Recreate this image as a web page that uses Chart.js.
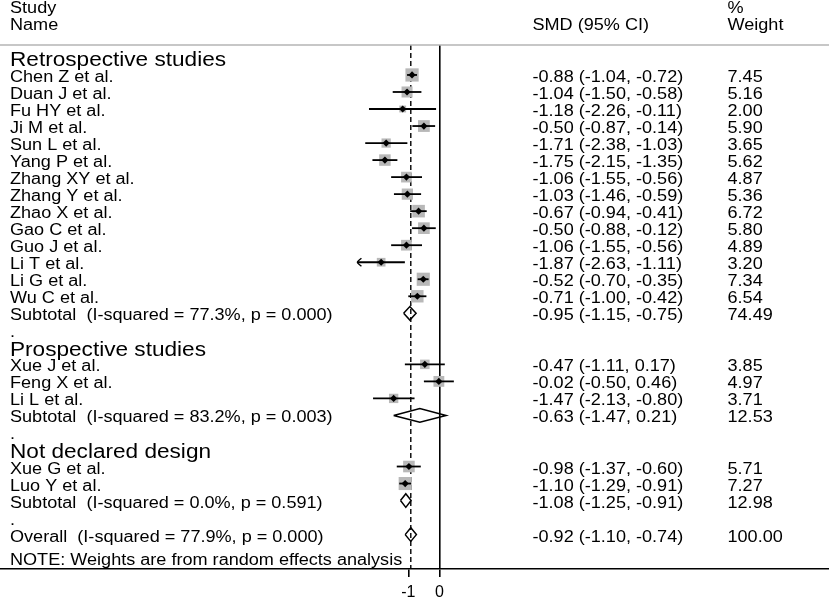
<!DOCTYPE html>
<html>
<head>
<meta charset="utf-8">
<script src="https://cdn.jsdelivr.net/npm/chart.js@4.4.1/dist/chart.umd.min.js"></script>
<style>
  html, body { margin: 0; padding: 0; background: #fff; }
  #wrap { width: 829px; height: 599px; }
</style>
</head>
<body>
<div id="wrap"><canvas id="forest"></canvas></div>
<script>
// groups of studies
const groupNames = ['Retrospective studies', 'Prospective studies', 'Not declared design']

// one entry per study
const studyNames = [
    'Chen Z et al.', 'Duan J et al.', 'Fu HY et al.', 'Ji M et al.', 'Sun L et al.',
    'Yang P et al.', 'Zhang XY et al.', 'Zhang Y et al.', 'Zhao X et al.', 'Gao C et al.',
    'Guo J et al.', 'Li T et al.', 'Li G et al.', 'Wu C et al.',
    'Xue J et al.', 'Feng X et al.', 'Li L et al.',
    'Xue G et al.', 'Luo Y et al.',
]
const studyGroup = [0, 0, 0, 0, 0, 0, 0, 0, 0, 0, 0, 0, 0, 0, 1, 1, 1, 2, 2]
const smd = [-0.88, -1.04, -1.18, -0.50, -1.71, -1.75, -1.06, -1.03, -0.67, -0.50, -1.06, -1.87, -0.52, -0.71, -0.47, -0.02, -1.47, -0.98, -1.10]
const lower = [-1.04, -1.50, -2.26, -0.87, -2.38, -2.15, -1.55, -1.46, -0.94, -0.88, -1.55, -2.63, -0.70, -1.00, -1.11, -0.50, -2.13, -1.37, -1.29]
const upper = [-0.72, -0.58, -0.11, -0.14, -1.03, -1.35, -0.56, -0.59, -0.41, -0.12, -0.56, -1.11, -0.35, -0.42, 0.17, 0.46, -0.80, -0.60, -0.91]
const weight = [7.45, 5.16, 2.00, 5.90, 3.65, 5.62, 4.87, 5.36, 6.72, 5.80, 4.89, 3.20, 7.34, 6.54, 3.85, 4.97, 3.71, 5.71, 7.27]

// subtotals, one per group
const subI2 = [77.3, 83.2, 0.0]
const subP = [0.000, 0.003, 0.591]
const subSmd = [-0.95, -0.63, -1.08]
const subLower = [-1.15, -1.47, -1.25]
const subUpper = [-0.75, 0.21, -0.91]
const subWeight = [74.49, 12.53, 12.98]

// overall
const overallI2 = 77.9
const overallP = 0.000
const overallSmd = -0.92
const overallLower = -1.10
const overallUpper = -0.74
const overallWeight = 100.00

const xTicks = [-1, 0]
const plotMin = -2.63   // CIs reaching this get an arrow

// ---- layout of rows (row index -> y value) ----
const FONT = '"Liberation Sans", Arial, sans-serif'
const STRETCH = 1.13
const yMin = -0.76
const yMax = 30.02

const textRows = []   // {row, kind, label, smdText, wText}
const studyRow = []
const subRow = []
let r = 0
const fmtCi = (e, l, u) => e.toFixed(2) + ' (' + l.toFixed(2) + ', ' + u.toFixed(2) + ')'

groupNames.forEach((g, gi) => {
    textRows.push({ row: r, kind: 'group', label: g })
    r++
    studyNames.forEach((name, i) => {
        if (studyGroup[i] !== gi) return
        studyRow[i] = r
        textRows.push({ row: r, kind: 'study', label: name, smdText: fmtCi(smd[i], lower[i], upper[i]), wText: weight[i].toFixed(2) })
        r++
    })
    subRow[gi] = r
    textRows.push({
        row: r, kind: 'study',
        label: 'Subtotal  (I-squared = ' + subI2[gi].toFixed(1) + '%, p = ' + subP[gi].toFixed(3) + ')',
        smdText: fmtCi(subSmd[gi], subLower[gi], subUpper[gi]), wText: subWeight[gi].toFixed(2),
    })
    r++
    textRows.push({ row: r, kind: 'study', label: '.' })
    r++
})
const overallRow = r
textRows.push({
    row: r, kind: 'study',
    label: 'Overall  (I-squared = ' + overallI2.toFixed(1) + '%, p = ' + overallP.toFixed(3) + ')',
    smdText: fmtCi(overallSmd, overallLower, overallUpper), wText: overallWeight.toFixed(2),
})
textRows.push({ row: r + 1.35, kind: 'study', label: 'NOTE: Weights are from random effects analysis' })

// ---- datasets ----
const datasets = []

datasets.push({
    data: [{ x: overallSmd, y: yMin }, { x: overallSmd, y: yMax }],
    showLine: true, borderColor: '#000', borderWidth: 1.4, borderDash: [5, 3],
    pointRadius: 0, order: 6,
})

datasets.push({
    data: studyNames.map((n, i) => ({ x: smd[i], y: studyRow[i] })),
    pointStyle: 'rect',
    pointRadius: weight.map((w) => 3.43 * Math.sqrt(w)),
    backgroundColor: '#b8b8b8', borderWidth: 0, order: 5,
})

studyNames.forEach((n, i) => {
    datasets.push({
        data: [{ x: Math.max(lower[i], plotMin), y: studyRow[i] }, { x: upper[i], y: studyRow[i] }],
        showLine: true, borderColor: '#000', borderWidth: 1.8, pointRadius: 0, order: 4,
    })
})

datasets.push({
    data: studyNames.map((n, i) => ({ x: smd[i], y: studyRow[i] })),
    pointStyle: 'rectRot', pointRadius: 3.6,
    backgroundColor: '#000', borderWidth: 0, order: 2,
})

const diamond = (e, l, u, row) => {
    const h = 0.4
    return [
        { x: l, y: row }, { x: e, y: row - h }, { x: u, y: row }, { x: e, y: row + h }, { x: l, y: row },
    ]
}
subSmd.forEach((e, gi) => {
    datasets.push({
        data: diamond(e, subLower[gi], subUpper[gi], subRow[gi]),
        showLine: true, borderColor: '#000', borderWidth: 1.5, pointRadius: 0, fill: false, order: 1,
    })
})
datasets.push({
    data: diamond(overallSmd, overallLower, overallUpper, overallRow),
    showLine: true, borderColor: '#000', borderWidth: 1.5, pointRadius: 0, fill: false, order: 1,
})

// ---- text & decorations ----
function drawText(ctx, str, x, y, size) {
    ctx.save()
    ctx.font = size + 'px ' + FONT
    ctx.fillStyle = '#000'
    ctx.textBaseline = 'alphabetic'
    ctx.textAlign = 'left'
    ctx.translate(x, y)
    ctx.scale(STRETCH, 1)
    ctx.fillText(str, 0, 0)
    ctx.restore()
}

const forestText = {
    id: 'forestText',
    afterDatasetsDraw(chart) {
        const ctx = chart.ctx
        const xs = chart.scales.x
        const ys = chart.scales.y
        const area = chart.chartArea

        // grey rule under the header
        ctx.save()
        ctx.strokeStyle = '#b4b4b4'
        ctx.lineWidth = 1.5
        ctx.beginPath()
        ctx.moveTo(0, area.top)
        ctx.lineTo(chart.width, area.top)
        ctx.stroke()
        ctx.restore()

        // arrows for clipped CIs
        ctx.save()
        ctx.strokeStyle = '#000'
        ctx.lineWidth = 1.5
        studyNames.forEach((n, i) => {
            if (lower[i] > plotMin) return
            const px = xs.getPixelForValue(plotMin)
            const py = ys.getPixelForValue(studyRow[i])
            ctx.beginPath()
            ctx.moveTo(px + 4, py - 4)
            ctx.quadraticCurveTo(px, py - 1, px, py)
            ctx.quadraticCurveTo(px, py + 1, px + 4, py + 4)
            ctx.stroke()
        })
        ctx.restore()

        // column headers
        drawText(ctx, 'Study', 10, 13, 16)
        drawText(ctx, 'Name', 10, 30, 16)
        drawText(ctx, 'SMD (95% CI)', 532.5, 30, 16)
        drawText(ctx, '%', 727.5, 13, 16)
        drawText(ctx, 'Weight', 727.5, 30, 16)

        textRows.forEach((t) => {
            const py = ys.getPixelForValue(t.row)
            if (t.kind === 'group') {
                drawText(ctx, t.label, 10, py + 8.5, 20)
                return
            }
            drawText(ctx, t.label, 10, py + 7, 16)
            if (t.smdText) drawText(ctx, t.smdText, 532.5, py + 7, 16)
            if (t.wText) drawText(ctx, t.wText, 727.5, py + 7, 16)
        })
    },
}

Chart.defaults.font.family = FONT

const config = {
    type: 'scatter',
    data: { datasets: datasets },
    options: {
        responsive: true,
        maintainAspectRatio: false,
        animation: false,
        events: [],
        layout: { autoPadding: false, padding: { top: 45, left: 0, right: 0, bottom: 0 } },
        plugins: { legend: { display: false }, tooltip: { enabled: false } },
        scales: {
            x: {
                type: 'linear',
                min: -439.5 / 31.2,
                max: (829 - 439.5) / 31.2,
                afterBuildTicks: (scale) => {
                    scale.ticks = xTicks.map((v) => ({ value: v }))
                },
                afterFit: (scale) => {
                    scale.height = 30
                },
                ticks: {
                    autoSkip: false,
                    maxRotation: 0,
                    padding: 6,
                    color: '#000',
                    font: { size: 16 },
                    callback: (v) => String(v),
                },
                grid: {
                    drawOnChartArea: true,
                    drawTicks: true,
                    tickLength: 8,
                    lineWidth: 1.6,
                    tickWidth: 1.6,
                    tickColor: '#000',
                    color: (c) => (c.tick && c.tick.value === 0 ? '#000' : 'rgba(0,0,0,0)'),
                },
                border: { display: true, color: '#000', width: 1.6 },
            },
            y: {
                type: 'linear',
                display: false,
                reverse: true,
                min: yMin,
                max: yMax,
            },
        },
    },
    plugins: [forestText],
}

const forestChart = new Chart(document.getElementById('forest'), config)
</script>
</body>
</html>
